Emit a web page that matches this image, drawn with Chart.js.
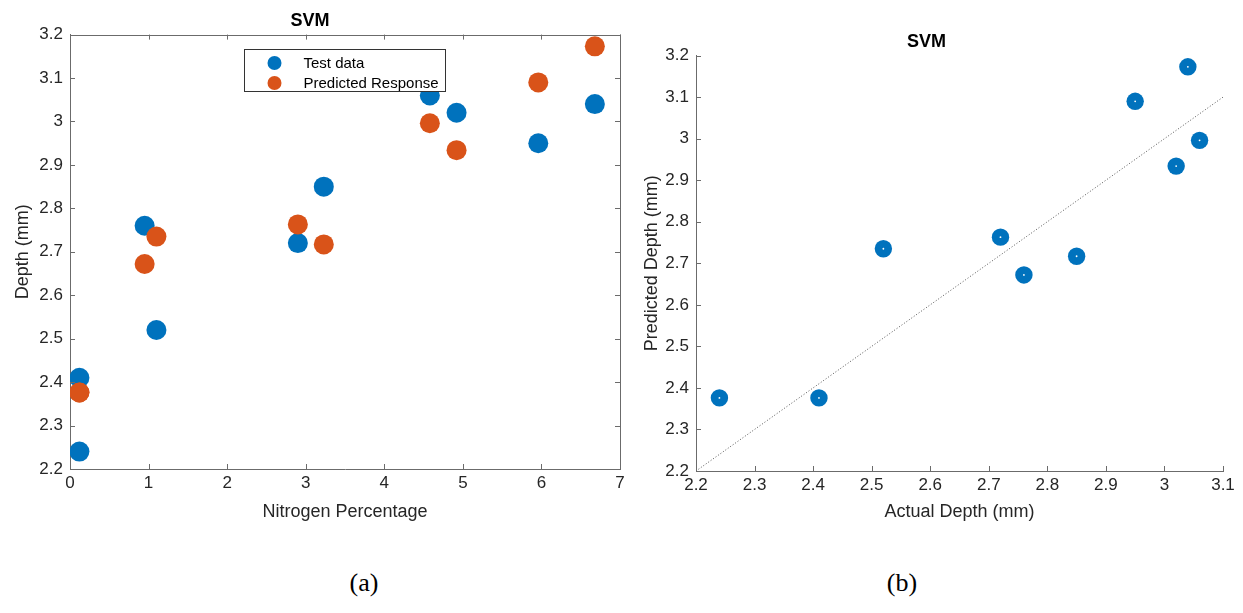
<!DOCTYPE html>
<html>
<head>
<meta charset="utf-8">
<script src="https://cdn.jsdelivr.net/npm/chart.js@4.4.0/dist/chart.umd.min.js"></script>
<style>
    html, body { margin: 0; padding: 0; background: #fff; }
    body { width: 1243px; height: 613px; position: relative; overflow: hidden; }
    .panel { position: absolute; top: 0; height: 530px; }
    #panel-a { left: 0; width: 650px; }
    #panel-b { left: 630px; width: 613px; }
    .caption {
        position: absolute; top: 568px; width: 80px; text-align: center;
        font-family: "Liberation Serif", "Times New Roman", serif; font-size: 26px; color: #000;
    }
</style>
</head>
<body>
<div class="panel" id="panel-a"><canvas id="chartA"></canvas></div>
<div class="panel" id="panel-b"><canvas id="chartB"></canvas></div>
<div class="caption" style="left: 324px;">(a)</div>
<div class="caption" style="left: 862px;">(b)</div>
<script>
// values
const nitrogen = [0.12, 0.12, 0.95, 1.1, 2.9, 3.23, 4.58, 4.92, 5.96, 6.68];
const testDepth = [2.24, 2.41, 2.76, 2.52, 2.72, 2.85, 3.06, 3.02, 2.95, 3.04];
const predictedDepth = [2.376, 2.376, 2.672, 2.735, 2.763, 2.717, 2.996, 2.934, 3.09, 3.173];
const seriesLabels = ['Test data', 'Predicted Response'];
const nitrogenTicks = [0, 1, 2, 3, 4, 5, 6, 7];
const depthTicks = [2.2, 2.3, 2.4, 2.5, 2.6, 2.7, 2.8, 2.9, 3, 3.1, 3.2];
const actualTicks = [2.2, 2.3, 2.4, 2.5, 2.6, 2.7, 2.8, 2.9, 3, 3.1];
const identityLine = [2.2, 3.1];

const BLUE = '#0072BD';
const ORANGE = '#D95319';
const AXIS = '#6b6b6b';
const TEXT = '#262626';
const FONT = '"Liberation Sans", Arial, Helvetica, sans-serif';

const pts = (xs, ys) => xs.map((x, i) => ({ x, y: ys[i] }));
const fmtTick = (v) => String(Math.round(v * 10) / 10);

// MATLAB style ticks pointing into the plot, optionally on all four sides
const innerTicks = {
    id: 'innerTicks',
    afterDraw(chart, args, opts) {
        const { ctx, chartArea: a, scales } = chart;
        const len = 5;
        ctx.save();
        ctx.strokeStyle = AXIS;
        ctx.lineWidth = 1;
        ctx.beginPath();
        scales.x.ticks.forEach((t) => {
            const px = Math.round(scales.x.getPixelForValue(t.value)) + 0.5;
            ctx.moveTo(px, a.bottom); ctx.lineTo(px, a.bottom - len);
            if (opts.box) { ctx.moveTo(px, a.top); ctx.lineTo(px, a.top + len); }
        });
        scales.y.ticks.forEach((t) => {
            const py = Math.round(scales.y.getPixelForValue(t.value)) + 0.5;
            ctx.moveTo(a.left, py); ctx.lineTo(a.left + len, py);
            if (opts.box) { ctx.moveTo(a.right, py); ctx.lineTo(a.right - len, py); }
        });
        if (opts.box) {
            ctx.moveTo(a.left, Math.round(a.top) + 0.5); ctx.lineTo(a.right, Math.round(a.top) + 0.5);
            ctx.moveTo(Math.round(a.right) + 0.5, a.top); ctx.lineTo(Math.round(a.right) + 0.5, a.bottom);
        }
        ctx.stroke();
        ctx.restore();
    }
};

// boxed legend like the MATLAB one
const boxLegend = {
    id: 'boxLegend',
    afterDraw(chart, args, opts) {
        if (!opts.show) return;
        const { ctx, chartArea: a } = chart;
        const w = 201, h = 42;
        const left = Math.round((a.left + a.right) / 2 - w / 2) - 0.5;
        const top = Math.round(a.top + 14) + 0.5;
        ctx.save();
        ctx.fillStyle = '#fff';
        ctx.fillRect(left, top, w, h);
        ctx.strokeStyle = '#333';
        ctx.lineWidth = 1;
        ctx.strokeRect(left, top, w, h);
        ctx.font = '15px ' + FONT;
        ctx.textBaseline = 'middle';
        opts.items.forEach((item, i) => {
            const cy = top + 13.5 + i * 20;
            ctx.fillStyle = item.color;
            ctx.beginPath();
            ctx.arc(left + 30, cy, 7, 0, Math.PI * 2);
            ctx.fill();
            ctx.fillStyle = '#000';
            ctx.fillText(item.label, left + 59, cy + 1);
        });
        ctx.restore();
    }
};

function commonScale(min, max, values, title, titlePad, fixedSize, horizontal) {
    return {
        type: 'linear',
        min, max,
        afterBuildTicks: (scale) => {
            scale.ticks = values.map((v) => ({ value: v }));
        },
        afterFit: (scale) => {
            if (horizontal) scale.height = fixedSize; else scale.width = fixedSize;
        },
        grid: { display: false, drawTicks: false },
        border: { display: true, color: AXIS, width: 1 },
        ticks: {
            color: TEXT,
            font: { family: FONT, size: 17 },
            padding: horizontal ? 4 : 7,
            maxRotation: 0,
            autoSkip: false,
            callback: (value) => fmtTick(value)
        },
        title: {
            display: true,
            text: title,
            color: TEXT,
            font: { family: FONT, size: 18, lineHeight: 1.2 },
            padding: titlePad
        }
    };
}

function titleOptions(top) {
    return {
        display: true,
        text: 'SVM',
        color: '#000',
        font: { family: FONT, size: 18, weight: 'bold', lineHeight: 1.2 },
        padding: { top, bottom: 3 }
    };
}

new Chart(document.getElementById('chartA'), {
    type: 'scatter',
    data: {
        datasets: [
            {
                label: seriesLabels[0],
                data: pts(nitrogen, testDepth),
                backgroundColor: BLUE,
                borderWidth: 0,
                pointRadius: 10,
                order: 2
            },
            {
                label: seriesLabels[1],
                data: pts(nitrogen, predictedDepth),
                backgroundColor: ORANGE,
                borderWidth: 0,
                pointRadius: 10,
                order: 1
            }
        ]
    },
    options: {
        responsive: true,
        maintainAspectRatio: false,
        animation: false,
        layout: { padding: { left: 0, right: 30, top: 0, bottom: 0 } },
        scales: {
            x: commonScale(0, 7, nitrogenTicks, 'Nitrogen Percentage', { top: 0, bottom: 7 }, 61, true),
            y: commonScale(2.2, 3.2, depthTicks, 'Depth (mm)', { top: 12, bottom: 0 }, 70, false)
        },
        plugins: {
            title: titleOptions(10),
            legend: { display: false },
            tooltip: { enabled: false },
            innerTicks: { box: true },
            boxLegend: {
                show: true,
                items: [
                    { label: seriesLabels[0], color: BLUE },
                    { label: seriesLabels[1], color: ORANGE }
                ]
            }
        }
    },
    plugins: [innerTicks, boxLegend]
});

new Chart(document.getElementById('chartB'), {
    type: 'scatter',
    data: {
        datasets: [
            {
                label: 'centre',
                data: pts(testDepth, predictedDepth),
                backgroundColor: '#fff',
                borderWidth: 0,
                pointRadius: 0.9,
                order: 0
            },
            {
                label: 'Predicted vs actual',
                data: pts(testDepth, predictedDepth),
                backgroundColor: BLUE,
                borderWidth: 0,
                pointRadius: 8.7,
                order: 1
            },
            {
                type: 'line',
                label: 'Perfect fit',
                data: pts(identityLine, identityLine),
                borderColor: '#555',
                borderWidth: 1,
                borderDash: [1, 2],
                pointRadius: 0,
                fill: false,
                order: 2
            }
        ]
    },
    options: {
        responsive: true,
        maintainAspectRatio: false,
        animation: false,
        layout: { padding: { left: 0, right: 20, top: 0, bottom: 0 } },
        scales: {
            x: commonScale(2.2, 3.1, actualTicks, 'Actual Depth (mm)', { top: 0, bottom: 7 }, 59, true),
            y: commonScale(2.2, 3.2, depthTicks, 'Predicted Depth (mm)', { top: 11, bottom: 0 }, 66, false)
        },
        plugins: {
            title: titleOptions(31),
            legend: { display: false },
            tooltip: { enabled: false },
            innerTicks: { box: false },
            boxLegend: { show: false }
        }
    },
    plugins: [innerTicks, boxLegend]
});
</script>
</body>
</html>
